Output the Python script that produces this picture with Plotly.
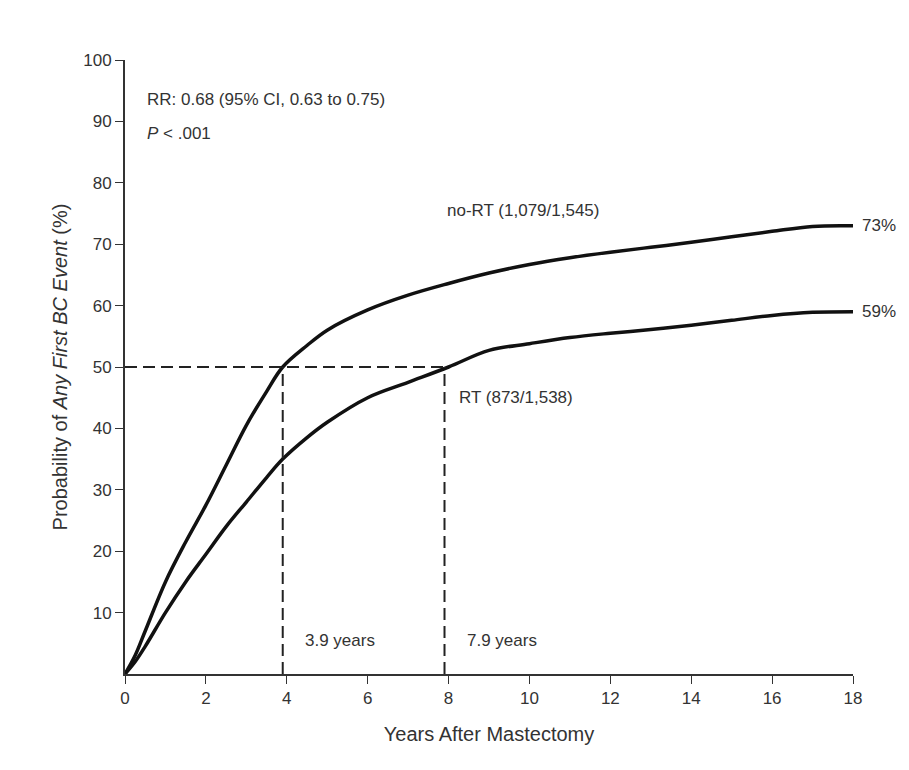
import plotly.graph_objects as go

years = [0, 0.25, 0.5, 1, 1.5, 2, 2.5, 3, 3.5, 3.9, 4.5, 5, 6, 7, 8, 9, 10, 11, 12, 13, 14, 15, 16, 17, 18]
no_rt = [0, 3, 7, 15, 21.5, 27.5, 34, 40.5, 46, 50, 53.5, 56, 59.3, 61.7, 63.6, 65.3, 66.7, 67.8, 68.7, 69.5, 70.3, 71.2, 72.1, 72.9, 73]
rt = [0, 2, 4.5, 10, 15, 19.5, 24, 28, 32, 35, 38.5, 41, 45, 47.5, 50, 52.7, 53.8, 54.8, 55.5, 56.1, 56.8, 57.6, 58.4, 58.9, 59]
median_x = [3.9, 7.9]

ink = "#333333"
fig = go.Figure()
fig.add_trace(go.Scatter(x=years, y=no_rt, mode="lines", line=dict(color="#111111", width=3.5, shape="spline", smoothing=1.0), name="no-RT"))
fig.add_trace(go.Scatter(x=years, y=rt, mode="lines", line=dict(color="#111111", width=3.5, shape="spline", smoothing=1.0), name="RT"))

dash = dict(color="#222222", width=2, dash="12px,6px")
fig.add_shape(type="line", x0=0, x1=median_x[1], y0=50, y1=50, line=dash)
for mx in median_x:
    fig.add_shape(type="line", x0=mx, x1=mx, y0=0, y1=50, line=dash)

ann = [
    (0.5, 93.5, "RR: 0.68 (95% CI, 0.63 to 0.75)"),
    (0.5, 88, "<i>P</i> < .001"),
    (7.9, 75.5, "no-RT (1,079/1,545)"),
    (8.2, 45, "RT (873/1,538)"),
    (4.4, 5.5, "3.9 years"),
    (8.4, 5.5, "7.9 years"),
]
for x, y, t in ann:
    fig.add_annotation(x=x, y=y, text=t, showarrow=False, xanchor="left",
                       font=dict(size=17, color=ink, family="Liberation Sans"))
for y, t in [(73, "73%"), (59, "59%")]:
    fig.add_annotation(xref="paper", x=1.01, y=y, text=t, showarrow=False, xanchor="left",
                       font=dict(size=17, color=ink, family="Liberation Sans"))

fig.update_layout(
    width=909, height=770,
    plot_bgcolor="white", paper_bgcolor="white",
    showlegend=False,
    margin=dict(l=117, r=64, t=52, b=104),
    font=dict(family="Liberation Sans", size=17, color=ink),
    xaxis=dict(range=[0, 18], tickvals=list(range(0, 19, 2)), showline=True, linecolor=ink, linewidth=2,
               ticks="outside", ticklen=8, tickcolor=ink, showgrid=False, zeroline=False,
               title=dict(text="Years After Mastectomy", standoff=20)),
    yaxis=dict(range=[0, 100], tickvals=list(range(10, 101, 10)), showline=True, linecolor=ink, linewidth=2,
               ticks="outside", ticklen=8, tickcolor=ink, showgrid=False, zeroline=False,
               title=dict(text="Probability of <i>Any First BC Event</i> (%)", standoff=10)),
)
fig.write_html("out.html")
